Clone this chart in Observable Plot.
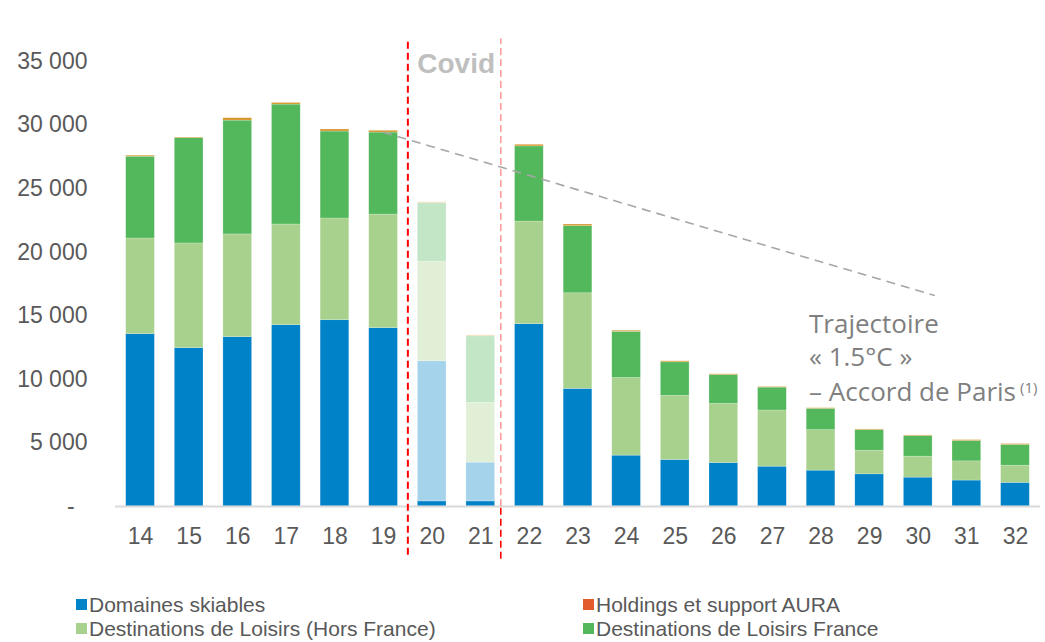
<!DOCTYPE html>
<html><head><meta charset="utf-8">
<script src="https://cdn.jsdelivr.net/npm/d3@7"></script>
<script src="https://cdn.jsdelivr.net/npm/@observablehq/plot@0.6"></script>
<style>
body{margin:0;background:#fff;width:1045px;height:642px;position:relative;overflow:hidden;font-family:"Liberation Sans",Arial,sans-serif;}
#chart{position:absolute;left:0;top:0;}
.item{position:absolute;display:flex;align-items:center;white-space:nowrap;font-size:21px;line-height:21px;height:21px;color:#595959;}
.sw{width:11px;height:11px;margin-right:2px;flex:none;}
</style></head><body>
<div id="chart"></div><div id="legend"></div>
<script>
// ---- data ----
const years = ["14","15","16","17","18","19","20","21","22","23","24","25","26","27","28","29","30","31","32"];
const seriesNames = ["Domaines skiables","Destinations de Loisirs (Hors France)","Destinations de Loisirs France","Holdings et support AURA"];
const domainesSkiables  = [13560,12460,13320,14260,14650,14030,11420,3450,14340,9250,4000,3660,3420,3130,2820,2530,2270,2040,1860];
const loisirsHorsFrance = [7520,8230,8080,7920,8000,8930,7840,4700,8070,7520,6110,5040,4650,4420,3190,1860,1650,1510,1350];
const loisirsFrance     = [6430,8280,8950,9430,6840,6450,4590,5230,5910,5280,3630,2640,2270,1800,1670,1620,1620,1600,1630];
const holdingsAura      = [80,50,190,130,160,140,80,80,130,130,80,80,60,50,50,50,50,70,70];
const covidYears = ["20","21"];
const covidActualDomaines = [400,400];
const yTicks = [0,5000,10000,15000,20000,25000,30000,35000];
const trendYears = [19, 30.35];
const trendValues = [29400, 16550];
const covidLabel = "Covid";
const annotationLines = ["Trajectoire","« 1.5°C »","– Accord de Paris"];
const annotationValues = [13640, 11050, 8310];
const annotationYear = "28";
const annotationNote = "(1)";

// ---- styles ----
const colors = ["#0082C8","#A9D18E","#52B85B","#E35B2B"];
const barColors = ["#0082C8","#A9D18E","#52B85B","#D4962A"];
const fade = c => d3.interpolateRgb("#ffffff", c)(0.35);

// ---- build table ----
const seriesValues = [domainesSkiables, loisirsHorsFrance, loisirsFrance, holdingsAura];
const keys = ["base","s0","s1","s2","s3"];
const rows = [];
years.forEach((yr, i) => {
  const ci = covidYears.indexOf(yr);
  const covid = ci >= 0;
  seriesValues.forEach((vals, s) => {
    let v = vals[i];
    if (s === 0 && covid) {
      rows.push({year: yr, key: "base", value: covidActualDomaines[ci], fill: barColors[0]});
      v = v - covidActualDomaines[ci];
    }
    rows.push({year: yr, key: "s" + s, value: v, fill: covid ? fade(barColors[s]) : barColors[s]});
  });
});

const fr = d3.formatLocale({decimal: ",", thousands: "\u00a0", grouping: [3], currency: ["", "€"]});
const fmt = d => d === 0 ? "-\u2007" : fr.format(",")(d);

const W = 1045, H = 572, mL = 115, mR = 5, mT = 61, mB = 66;

function trendMark(index, scales) {
  const x = scales.x, y = scales.y;
  const step = x(years[1]) - x(years[0]);
  const bw = typeof x.bandwidth === "function" ? x.bandwidth() : step * 0.59;
  const px = t => {
    const i = Math.floor(t) - +years[0];
    return x(years[i]) + bw / 2 + (t - Math.floor(t)) * step;
  };
  const g = d3.create("svg:g");
  g.append("path")
    .attr("d", d3.line()(trendYears.map((t, k) => [px(t), y(trendValues[k])])))
    .attr("fill", "none").attr("stroke", "#A6A6A6").attr("stroke-width", 1.6)
    .attr("stroke-dasharray", "9,6");
  return g.node();
}

const plot = Plot.plot({
  width: W, height: H,
  marginLeft: mL, marginRight: mR, marginTop: mT, marginBottom: mB,
  style: {fontFamily: "'Liberation Sans', Arial, sans-serif", fontSize: "23px", color: "#595959", background: "#fff", overflow: "visible"},
  x: {type: "band", domain: years, paddingInner: 0.41, paddingOuter: 0.22, round: false, tickSize: 0, tickPadding: 21, label: null},
  y: {domain: [0, 35000], ticks: yTicks, tickFormat: fmt, tickSize: 0, tickPadding: 28, label: null},
  marks: [
    Plot.barY(rows, Plot.stackY({x: "year", y: "value", z: "key", order: keys, fill: "fill", stroke: "#ffffff", strokeOpacity: 0.35, strokeWidth: 0.6})),
    Plot.ruleY([0], {stroke: "#D9D9D9", strokeWidth: 2}),
    trendMark,
    Plot.ruleX([years[5]], {x: d => d, y1: -3840, y2: 36760, dx: 24.3, stroke: "#FF0000", strokeWidth: 2, strokeDasharray: "7,4"}),
    Plot.ruleX([years[7]], {x: d => d, y1: 0, y2: 36760, dx: 20, stroke: "#FF9C9C", strokeWidth: 1.6, strokeDasharray: "7,4"}),
    Plot.ruleX([years[7]], {x: d => d, y1: -4150, y2: 0, dx: 20, stroke: "#FF0000", strokeWidth: 1.6, strokeDasharray: "7,4"}),
    Plot.text([covidLabel], {x: () => years[6], y: () => 34100, text: d => d, dx: 24, textAnchor: "middle", lineAnchor: "bottom", fill: "#BFBFBF", fontWeight: "bold", fontSize: 28}),
    Plot.text(annotationLines, {x: () => annotationYear, y: (d, i) => annotationValues[i], text: d => d, dx: -12, textAnchor: "start", lineAnchor: "bottom", fill: "#7F7F7F", fontSize: 26, fontFamily: "'Open Sans', sans-serif"})
  ]
});
document.getElementById("chart").appendChild(plot);

// superscript note
d3.select(plot).selectAll("text").filter(function() { return this.textContent === annotationLines[2]; })
  .append("tspan").attr("dx", "4").attr("dy", "-0.5em").attr("font-size", "15px").text(annotationNote);

// legend
const legendPos = [[76, 594], [76, 618], [583, 618], [583, 594]];
const leg = document.getElementById("legend");
seriesNames.forEach((n, i) => {
  const it = document.createElement("div");
  it.className = "item";
  it.style.left = legendPos[i][0] + "px";
  it.style.top = legendPos[i][1] + "px";
  it.innerHTML = `<span class="sw" style="background:${colors[i]}"></span><span>${n}</span>`;
  leg.appendChild(it);
});
</script>
</body></html>
